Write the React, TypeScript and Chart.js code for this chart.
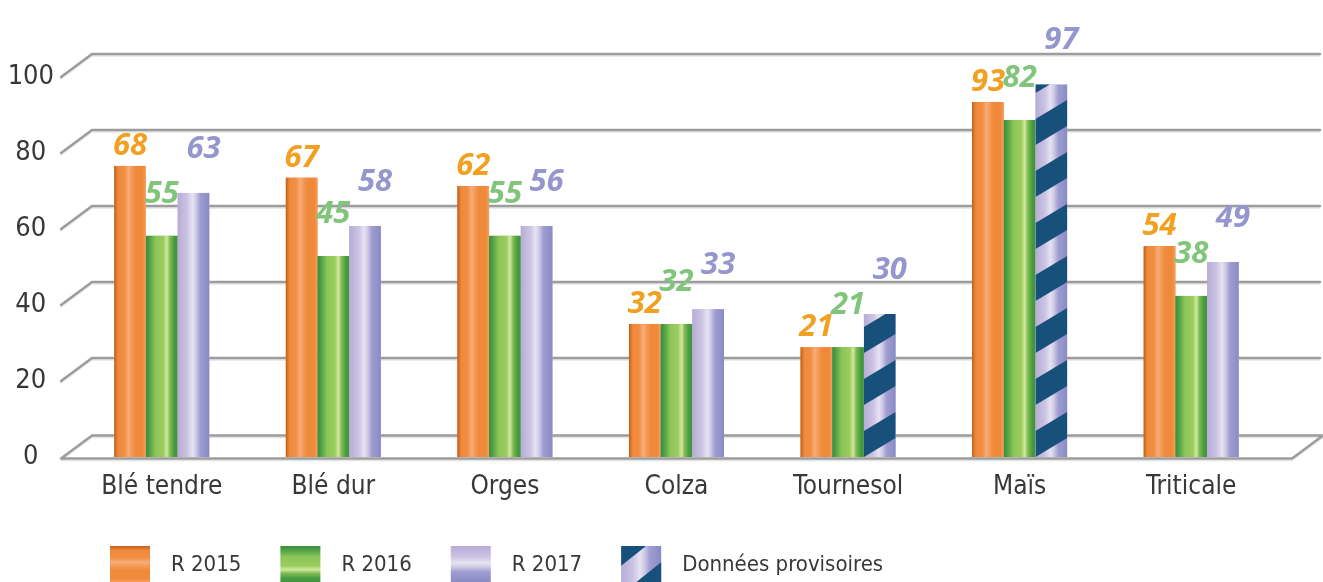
import React, { useEffect, useRef } from 'react';
import { Chart, registerables } from 'chart.js';

Chart.register(...registerables);

// ---------- data ----------
const categories = ['Blé tendre', 'Blé dur', 'Orges', 'Colza', 'Tournesol', 'Maïs', 'Triticale'];
// bar heights as drawn against the axis
const r2015 = [76.6, 73.5, 71.3, 35.0, 28.9, 93.4, 55.5];
const r2016 = [58.2, 52.9, 58.2, 35.0, 28.9, 88.7, 42.4];
const r2017 = [69.5, 60.8, 60.8, 38.9, 37.6, 98.0, 51.3];
// printed value labels
const labels2015 = ['68', '67', '62', '32', '21', '93', '54'];
const labels2016 = ['55', '45', '55', '32', '21', '82', '38'];
const labels2017 = ['63', '58', '56', '33', '30', '97', '49'];
// provisional data (hatched) for R 2017
const provisional2017 = [false, false, false, false, true, true, false];
const yTicks = [0, 20, 40, 60, 80, 100];
const seriesNames = ['R 2015', 'R 2016', 'R 2017'];
const provisionalName = 'Données provisoires';

// ---------- styles ----------
const TEXT_FONT = '"DejaVu Sans Condensed", "Liberation Sans Narrow", sans-serif';
const VALUE_FONT = '"Open Sans", "DejaVu Sans", sans-serif';
const TEXT_COLOR = '#383838';
const HATCH = '#17507b';

type Stop = [number, string];
const ORANGE: Stop[] = [
  [0, '#bf5f1b'], [0.12, '#ee8a3b'], [0.32, '#f28e42'], [0.45, '#f6ad78'],
  [0.56, '#f39a55'], [0.68, '#f08a3b'], [0.9, '#f08a3b'], [1, '#f4a064'],
];
const GREEN: Stop[] = [
  [0, '#3a8c3b'], [0.1, '#4a9e45'], [0.3, '#8cc556'], [0.55, '#9acd5e'],
  [0.66, '#d3e8a1'], [0.76, '#7eba52'], [0.9, '#469b41'], [1, '#3f953f'],
];
const PURPLE: Stop[] = [
  [0, '#b8acd7'], [0.3, '#cbc4e3'], [0.47, '#e6e3f2'], [0.58, '#cfcae6'],
  [0.72, '#9e9cd1'], [1, '#8a8bc5'],
];

const SERIES = [
  { stops: ORANGE, base: '#f08a3b', labelColor: '#f1a021', labels: labels2015, dx: 0, dy: -20, prov: null as boolean[] | null },
  { stops: GREEN, base: '#8cc556', labelColor: '#80c57b', labels: labels2016, dx: 0, dy: -42, prov: null as boolean[] | null },
  { stops: PURPLE, base: '#cbc4e3', labelColor: '#9596cd', labels: labels2017, dx: 10, dy: -44, prov: provisional2017 },
];

function grad(ctx: CanvasRenderingContext2D, x0: number, y0: number, x1: number, y1: number, stops: Stop[]) {
  const g = ctx.createLinearGradient(x0, y0, x1, y1);
  stops.forEach(([o, c]) => g.addColorStop(o, c));
  return g;
}

function drawStripes(ctx: CanvasRenderingContext2D, left: number, top: number, w: number, h: number, baseY: number) {
  const period = 52;
  const thick = 26;
  const rise = w * 0.6;
  ctx.save();
  ctx.beginPath();
  ctx.rect(left, top, w, h);
  ctx.clip();
  ctx.fillStyle = HATCH;
  const n = Math.ceil(h / period) + 3;
  for (let k = -2; k < n; k++) {
    const y0 = baseY - k * period;
    ctx.beginPath();
    ctx.moveTo(left, y0);
    ctx.lineTo(left, y0 - thick);
    ctx.lineTo(left + w, y0 - thick - rise);
    ctx.lineTo(left + w, y0 - rise);
    ctx.closePath();
    ctx.fill();
  }
  ctx.restore();
}

const gridPlugin = {
  id: 'perspectiveGrid',
  beforeDatasetsDraw(chart: any) {
    const { ctx, chartArea } = chart;
    const ys = chart.scales.y;
    const fx = chartArea.left - 15;
    const dx = 31;
    const dy = 23;
    const rightEnd = chart.width - 3;
    ctx.save();
    ctx.lineCap = 'round';
    ctx.lineJoin = 'round';
    const path = (v: number, off: number) => {
      const py = ys.getPixelForValue(v) + (v === 0 ? 1.5 : 0) + off;
      ctx.beginPath();
      if (v === 0) {
        const fr = chart.width - dx;
        ctx.moveTo(fx + dx, py - dy);
        ctx.lineTo(fx, py);
        ctx.lineTo(fr, py);
        ctx.lineTo(fr + dx, py - dy);
        ctx.lineTo(fx + dx, py - dy);
      } else {
        ctx.moveTo(fx, py);
        ctx.lineTo(fx + dx, py - dy);
        ctx.lineTo(rightEnd, py - dy);
      }
    };
    for (const v of yTicks) {
      ctx.strokeStyle = '#e4e4e4';
      ctx.lineWidth = 1.5;
      path(v, 2);
      ctx.stroke();
      ctx.strokeStyle = '#9c9c9c';
      ctx.lineWidth = 2.4;
      path(v, 0);
      ctx.stroke();
    }
    ctx.restore();
  },
};

const barsPlugin = {
  id: 'styledBars',
  afterDatasetsDraw(chart: any) {
    const { ctx } = chart;
    ctx.save();
    SERIES.forEach((s, di) => {
      const meta = chart.getDatasetMeta(di);
      meta.data.forEach((el: any, i: number) => {
        const { x, y, base, width } = el.getProps(['x', 'y', 'base', 'width'], true);
        const left = x - width / 2;
        const h = base - y;
        ctx.fillStyle = grad(ctx, left, 0, left + width, 0, s.stops);
        ctx.fillRect(left, y, width, h);
        if (s.prov && s.prov[i]) {
          drawStripes(ctx, left, y, width, h, base);
        }
      });
    });
    // value labels
    ctx.textAlign = 'center';
    ctx.textBaseline = 'middle';
    ctx.font = `italic bold 31px ${VALUE_FONT}`;
    SERIES.forEach((s, di) => {
      const meta = chart.getDatasetMeta(di);
      ctx.fillStyle = s.labelColor;
      meta.data.forEach((el: any, i: number) => {
        const { x, y } = el.getProps(['x', 'y'], true);
        ctx.fillText(s.labels[i], x + s.dx, y + s.dy);
      });
    });
    ctx.restore();
  },
};

const legendPlugin = {
  id: 'customLegend',
  afterDraw(chart: any) {
    const { ctx } = chart;
    const boxW = 40;
    const boxH = 36;
    const top = 546;
    const midY = top + boxH / 2 + 1;
    let x = 110;
    ctx.save();
    ctx.font = `22px ${TEXT_FONT}`;
    ctx.textBaseline = 'middle';
    ctx.textAlign = 'left';
    const items = [
      ...SERIES.map((s, i) => ({ name: seriesNames[i], stops: s.stops, hatch: false })),
      { name: provisionalName, stops: PURPLE, hatch: true },
    ];
    items.forEach((it) => {
      if (it.hatch) {
        ctx.fillStyle = grad(ctx, x, 0, x + boxW, 0, PURPLE);
        ctx.fillRect(x, top, boxW, boxH);
        ctx.fillStyle = HATCH;
        ctx.beginPath();
        ctx.moveTo(x, top);
        ctx.lineTo(x + boxW * 0.62, top);
        ctx.lineTo(x, top + boxH * 0.55);
        ctx.closePath();
        ctx.fill();
        ctx.beginPath();
        ctx.moveTo(x + boxW, top + boxH * 0.45);
        ctx.lineTo(x + boxW, top + boxH);
        ctx.lineTo(x + boxW * 0.38, top + boxH);
        ctx.closePath();
        ctx.fill();
      } else {
        ctx.fillStyle = grad(ctx, 0, top, 0, top + boxH, it.stops);
        ctx.fillRect(x, top, boxW, boxH);
      }
      ctx.fillStyle = TEXT_COLOR;
      const tx = x + boxW + 21;
      ctx.fillText(it.name, tx, midY);
      x = tx + ctx.measureText(it.name).width + 39;
    });
    ctx.restore();
  },
};

export default function App() {
  const ref = useRef<HTMLCanvasElement>(null);
  useEffect(() => {
    if (!ref.current) return;
    const chart = new Chart(ref.current, {
      type: 'bar',
      data: {
        labels: categories,
        datasets: [r2015, r2016, r2017].map((d, i) => ({
          label: seriesNames[i],
          data: d,
          backgroundColor: SERIES[i].base,
          borderWidth: 0,
          categoryPercentage: 0.554,
          barPercentage: 1,
        })),
      },
      options: {
        responsive: false,
        devicePixelRatio: 1,
        animation: false,
        layout: { padding: { top: 77, right: 46, left: 0, bottom: 0 } },
        plugins: {
          legend: { display: false },
          tooltip: { enabled: false },
        },
        scales: {
          x: {
            grid: { display: false, drawTicks: false },
            border: { display: false },
            ticks: {
              color: TEXT_COLOR,
              font: { family: TEXT_FONT, size: 26 },
              padding: 15,
              maxRotation: 0,
              autoSkip: false,
            },
            afterFit: (s: any) => { s.height = 125; },
          },
          y: {
            min: 0,
            max: 100,
            grid: { display: false, drawTicks: false },
            border: { display: false },
            ticks: {
              stepSize: 20,
              color: TEXT_COLOR,
              font: { family: TEXT_FONT, size: 27 },
              crossAlign: 'center',
              padding: 22,
            },
            afterFit: (s: any) => { s.width = 76; },
          },
        },
      },
      plugins: [gridPlugin, barsPlugin, legendPlugin],
    } as any);
    return () => chart.destroy();
  }, []);
  return (
    <div style={{ position: 'absolute', left: 0, top: 0, width: 1323, height: 582, background: '#ffffff' }}>
      <canvas ref={ref} width={1323} height={582} style={{ display: 'block', width: 1323, height: 582 }} />
    </div>
  );
}
